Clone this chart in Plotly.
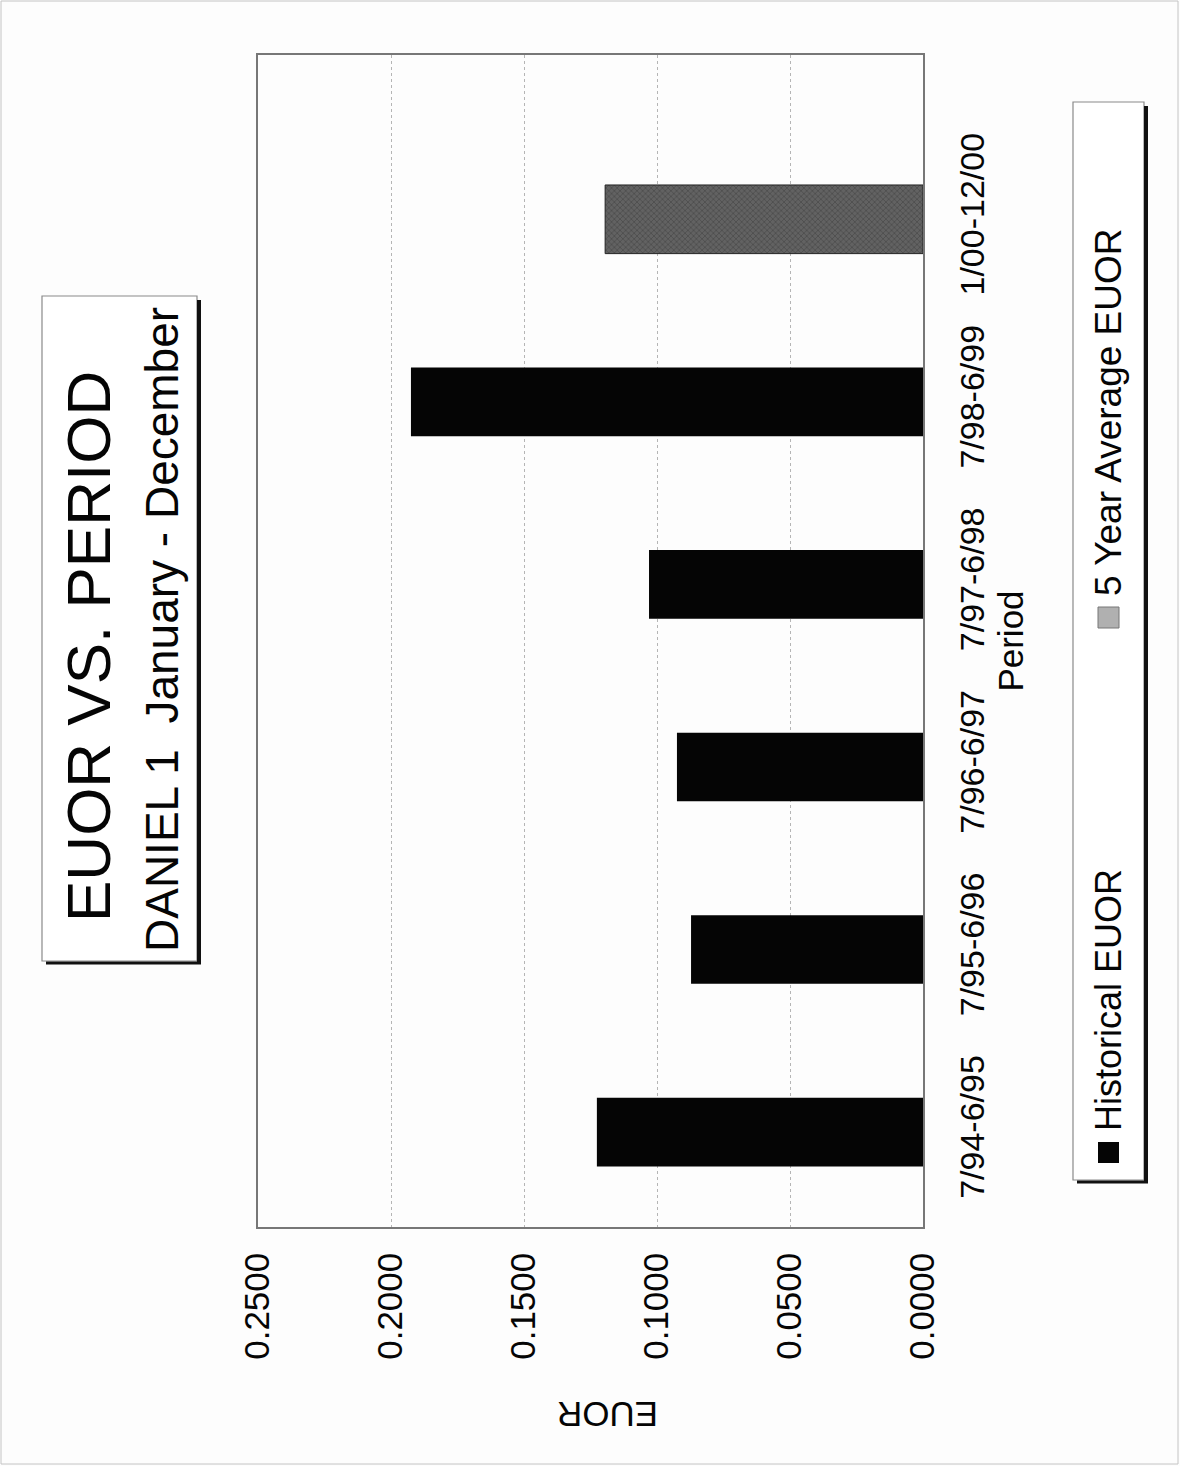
import plotly.graph_objects as go

# ---------------- data ----------------
periods = ["7/94-6/95", "7/95-6/96", "7/96-6/97", "7/97-6/98", "7/98-6/99", "1/00-12/00"]
hist_periods = ["7/94-6/95", "7/95-6/96", "7/96-6/97", "7/97-6/98", "7/98-6/99"]
hist_values = [0.1226, 0.0872, 0.0925, 0.1030, 0.1925]
avg_periods = ["1/00-12/00"]
avg_values = [0.1195]
value_ticks = [0.0, 0.05, 0.10, 0.15, 0.20, 0.25]
value_ticktext = ["0.0000", "0.0500", "0.1000", "0.1500", "0.2000", "0.2500"]

title_text = "EUOR VS. PERIOD"
subtitle_text = "DANIEL 1  January - December"
legend_hist = "Historical EUOR"
legend_avg = "5 Year Average EUOR"

FONT = "Liberation Sans, Arial, Helvetica, sans-serif"
INK = "#050505"
W, H = 1180, 1466
L, R, T, B = 258, 923, 55, 1227


def px(x):
    return (x - L) / (R - L)


def py(y):
    return (B - y) / (B - T)


fig = go.Figure()
fig.add_trace(go.Bar(
    y=hist_periods, x=hist_values, orientation="h", width=0.376,
    marker=dict(color="#050505", line=dict(width=0)),
    name=legend_hist, showlegend=False,
))
fig.add_trace(go.Bar(
    y=avg_periods, x=avg_values, orientation="h", width=0.376,
    marker=dict(color="#4f4f4f", line=dict(color="#222", width=1),
                pattern=dict(shape="x", fgcolor="#2a2a2a", bgcolor="#626262",
                             size=4, solidity=0.3)),
    name=legend_avg, showlegend=False,
))

shapes = []
annotations = []

# page border
shapes.append(dict(type="rect", xref="paper", yref="paper",
                   x0=px(1), x1=px(W - 2), y0=py(1), y1=py(H - 2),
                   line=dict(color="#c4c4c4", width=1), layer="below"))

# title box with shadow
tb = dict(x0=42, x1=197, y0=296, y1=961)
shapes.append(dict(type="rect", xref="paper", yref="paper",
                   x0=px(tb["x0"]), x1=px(tb["x1"]), y0=py(tb["y0"]), y1=py(tb["y1"]),
                   line=dict(color="#8a8a8a", width=1.2), fillcolor="white"))
shapes.append(dict(type="line", xref="paper", yref="paper",
                   x0=px(tb["x1"] + 2), x1=px(tb["x1"] + 2), y0=py(tb["y0"] + 4), y1=py(tb["y1"] + 3),
                   line=dict(color="#111", width=4)))
shapes.append(dict(type="line", xref="paper", yref="paper",
                   x0=px(tb["x0"] + 4), x1=px(tb["x1"] + 4), y0=py(tb["y1"] + 2), y1=py(tb["y1"] + 2),
                   line=dict(color="#111", width=3)))
annotations.append(dict(text=title_text, xref="paper", yref="paper",
                        x=px(88), y=py(647), showarrow=False, textangle=-90,
                        font=dict(family=FONT, size=62, color=INK),
                        xanchor="center", yanchor="middle"))
annotations.append(dict(text=subtitle_text, xref="paper", yref="paper",
                        x=px(162), y=py(630), showarrow=False, textangle=-90,
                        font=dict(family=FONT, size=46, color=INK),
                        xanchor="center", yanchor="middle"))

# legend box with shadow
lb = dict(x0=1073, x1=1144, y0=102, y1=1180)
shapes.append(dict(type="rect", xref="paper", yref="paper",
                   x0=px(lb["x0"]), x1=px(lb["x1"]), y0=py(lb["y0"]), y1=py(lb["y1"]),
                   line=dict(color="#8a8a8a", width=1.2), fillcolor="white"))
shapes.append(dict(type="line", xref="paper", yref="paper",
                   x0=px(lb["x1"] + 2), x1=px(lb["x1"] + 2), y0=py(lb["y0"] + 4), y1=py(lb["y1"] + 3),
                   line=dict(color="#111", width=4)))
shapes.append(dict(type="line", xref="paper", yref="paper",
                   x0=px(lb["x0"] + 4), x1=px(lb["x1"] + 4), y0=py(lb["y1"] + 2), y1=py(lb["y1"] + 2),
                   line=dict(color="#111", width=3)))
# legend markers
shapes.append(dict(type="rect", xref="paper", yref="paper",
                   x0=px(1098), x1=px(1119), y0=py(1142), y1=py(1163),
                   line=dict(width=0), fillcolor="#050505"))
shapes.append(dict(type="rect", xref="paper", yref="paper",
                   x0=px(1098), x1=px(1119), y0=py(607), y1=py(628),
                   line=dict(color="#777", width=1), fillcolor="#b0b0b0"))
annotations.append(dict(text=legend_hist, xref="paper", yref="paper",
                        x=px(1108), y=py(1000), showarrow=False, textangle=-90,
                        font=dict(family=FONT, size=36, color=INK),
                        xanchor="center", yanchor="middle"))
annotations.append(dict(text=legend_avg, xref="paper", yref="paper",
                        x=px(1108), y=py(412), showarrow=False, textangle=-90,
                        font=dict(family=FONT, size=37, color=INK),
                        xanchor="center", yanchor="middle"))

# value axis title (upside down because the page is rotated)
annotations.append(dict(text="EUOR", xref="paper", yref="paper",
                        x=px(608), y=py(1414), showarrow=False, textangle=180,
                        font=dict(family=FONT, size=35, color=INK),
                        xanchor="center", yanchor="middle"))

fig.update_layout(
    width=W, height=H,
    margin=dict(l=L, r=W - R, t=T, b=H - B, autoexpand=False),
    paper_bgcolor="#fdfdfd", plot_bgcolor="#fdfdfd",
    barmode="overlay",
    font=dict(family=FONT, size=35, color=INK),
    shapes=shapes, annotations=annotations,
    xaxis=dict(range=[0.25, 0], tickvals=value_ticks, ticktext=value_ticktext,
               tickangle=-90, ticks="", ticklabelstandoff=10,
               showgrid=True, gridcolor="#b5b5b5", griddash="dot", gridwidth=1,
               showline=True, linecolor="#777", linewidth=1.5, mirror=True,
               zeroline=False, tickfont=dict(family=FONT, size=35, color=INK)),
    yaxis=dict(type="category", categoryorder="array", categoryarray=periods,
               range=[-0.52, 5.9], side="right", tickangle=-90, ticks="",
               ticklabelstandoff=18,
               showgrid=False, showline=True, linecolor="#777", linewidth=1.5, mirror=True,
               tickfont=dict(family=FONT, size=34, color=INK),
               title=dict(text="Period", standoff=8,
                          font=dict(family=FONT, size=35, color=INK))),
)

fig.write_html("out.html")
